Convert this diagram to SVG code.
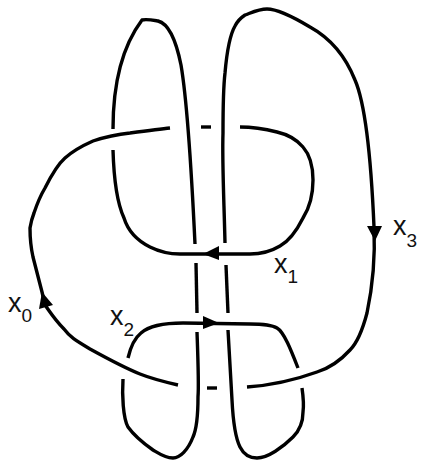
<svg xmlns="http://www.w3.org/2000/svg" width="423" height="461" viewBox="0 0 423 461">
<style>
.s{fill:none;stroke:#000;stroke-width:3.4;stroke-linecap:butt;stroke-linejoin:round}
.a{fill:#000;stroke:none}
.t{font-family:"Liberation Sans",Arial,sans-serif;fill:#111;font-size:27px}
.u{font-size:19px}
</style>
<rect width="423" height="461" fill="#fff"/>
<g id="connectors">
<path class="s" d="M113 129C113 95 118 52 142 20C147 19 152 20 158 21C170 24 177 45 181 65C187 100 191 160 195 244"/>
<path class="s" d="M196 263L197 313"/>
<path class="s" d="M197 332C198 360 199 385 198 397C198 415 197 428 193 437C188 450 180 458 173 458C165 458 158 453 153 450C143 443 133 434 128 427C123 418 122 395 123 379"/>
<path class="s" d="M128 358C131 345 136 337 141 333C150 325 165 323 183 323L250 324C262 324 272 325 277 328C284 332 291 350 298 368"/>
<path class="s" d="M302 388C303 395 304 405 303 412C303 425 298 432 293 437C283 447 268 458 257 458C248 458 243 453 240 447C235 437 233 420 232 400L228 330"/>
<path class="s" d="M228 313L226 265"/>
<path class="s" d="M225 243C224 200 222 160 223 133C223 105 223 90 225 73C227 50 231 33 235 26C238 20 242 17 245 15C253 12 259 9 267 9C278 9 295 18 310 27C330 38 345 55 355 80C368 110 372 180 374 227C375 250 374 280 367 313C362 332 356 344 350 350C340 361 330 368 317 372C295 380 275 385 247 387"/>
<path class="s" d="M178 385C165 382 150 378 140 374C125 368 110 360 90 349C75 340 70 337 64 329C55 320 50 312 45 305L42 292L33 257C31 248 30 236 30 228C31 222 32 218 34 213C38 201 42 193 45 188C50 178 57 165 65 158C75 149 84 145 93 141C105 137 120 134 130 133C145 131 160 129 170 128"/>
<path class="s" d="M201 127H211"/>
<path class="s" d="M240 127C252 127 265 129 277 132C290 135 298 141 303 147C310 155 313 168 313 180C313 195 310 207 303 218C297 230 289 241 280 246C270 252 260 254 250 254L180 254C170 254 158 251 150 247C136 240 128 231 124 218C118 205 114 185 113 150"/>
<path class="s" d="M207 388H217"/>
<polygon class="a" points="203,254 219,246 219,260"/>
<polygon class="a" points="219,323 203,316 203,329"/>
<polygon class="a" points="375,241 367,226 382,226"/>
<polygon class="a" points="42,292 39,309 53,305"/>
</g>
<g id="labels">
<text class="t" x="8" y="312">x<tspan class="u" dy="10">0</tspan></text>
<text class="t" x="110" y="325">x<tspan class="u" dy="11">2</tspan></text>
<text class="t" x="274" y="273">x<tspan class="u" dy="10">1</tspan></text>
<text class="t" x="393" y="235">x<tspan class="u" dy="12">3</tspan></text>
</g>
</svg>
